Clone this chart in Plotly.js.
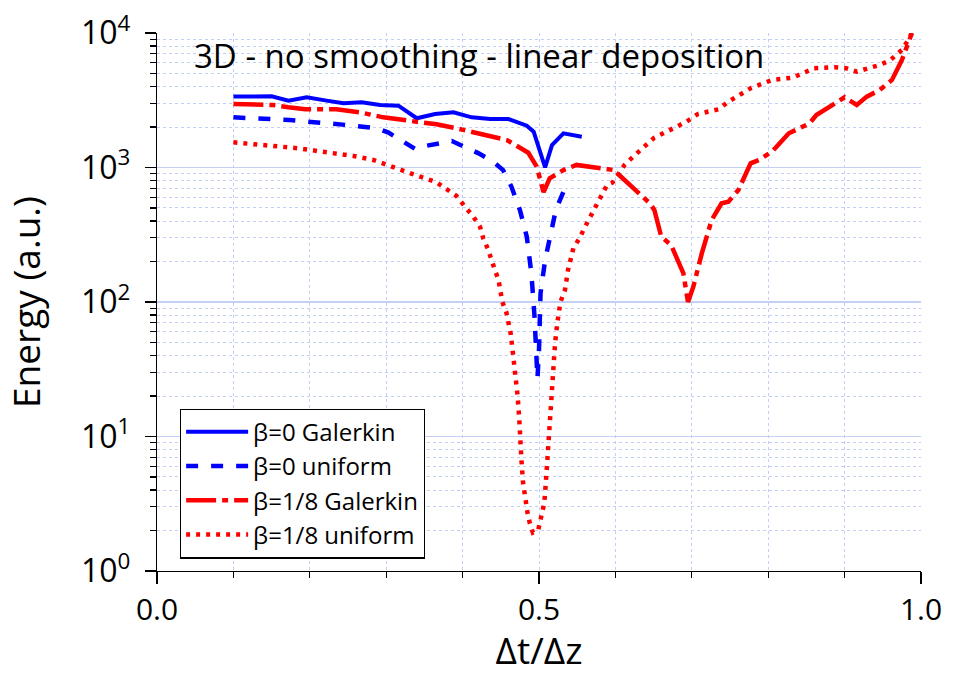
<!DOCTYPE html>
<html>
<head>
<meta charset="utf-8">
<script src="https://cdn.plot.ly/plotly-3.0.1.min.js"></script>
<style>html,body{margin:0;padding:0;background:#fff;}#chart{width:953px;height:675px;}</style>
</head>
<body>
<div id="chart"></div>
<script>
// β=0 Galerkin (solid blue)
const g0_x = [0.100,0.150,0.172,0.196,0.222,0.244,0.268,0.292,0.316,0.340,0.364,0.388,0.412,0.436,0.460,0.484,0.493,0.508,0.517,0.532,0.556];
const g0_y = [3365,3388,3141,3327,3141,3000,3055,2917,2884,2323,2500,2570,2360,2291,2291,2046,1845,1002,1469,1795,1694];

// β=0 uniform (dashed blue)
const u0_x = [0.100,0.174,0.248,0.288,0.303,0.318,0.338,0.353,0.370,0.386,0.405,0.421,0.440,0.453,0.464,0.475,0.484,0.490,0.494,0.497,0.498,0.500,0.502,0.508,0.515,0.522,0.532,0.538];
const u0_y = [2360,2254,2070,1954,1816,1622,1374,1452,1514,1574,1403,1274,1104,957,719,483,306,164,80,43,27,44,116,205,306,483,661,783];

// β=1/8 Galerkin (dash-dot red)
const g8_x = [0.100,0.152,0.172,0.194,0.235,0.266,0.296,0.331,0.366,0.392,0.423,0.458,0.486,0.497,0.506,0.514,0.532,0.549,0.598,0.620,0.645,0.651,0.660,0.673,0.689,0.695,0.702,0.713,0.726,0.739,0.748,0.761,0.777,0.788,0.805,0.827,0.854,0.863,0.880,0.900,0.916,0.929,0.946,0.962,0.975,0.984,0.988];
const g8_y = [2965,2917,2805,2710,2710,2570,2360,2218,2094,1954,1766,1600,1288,1014,655,832,957,1045,957,741,542,483,306,265,163,100,130,229,407,542,557,681,1074,1138,1312,1795,2128,2455,2831,3327,2917,3365,3767,4477,6295,8630,9954];

// β=1/8 uniform (dotted red)
const u8_x = [0.100,0.144,0.185,0.226,0.257,0.283,0.309,0.338,0.366,0.392,0.403,0.414,0.423,0.427,0.433,0.437,0.442,0.447,0.452,0.457,0.460,0.463,0.466,0.469,0.471,0.472,0.474,0.475,0.477,0.479,0.482,0.485,0.488,0.492,0.499,0.502,0.507,0.509,0.511,0.513,0.514,0.517,0.519,0.521,0.524,0.528,0.534,0.538,0.545,0.553,0.560,0.567,0.574,0.582,0.589,0.596,0.612,0.627,0.651,0.680,0.693,0.708,0.735,0.748,0.777,0.805,0.832,0.860,0.887,0.902,0.916,0.931,0.946,0.960,0.975,0.984,0.988];
const u8_y = [1538,1469,1390,1288,1219,1138,1002,879,776,614,512,431,360,298,249,209,175,146,100,85,71,58,41,29,24,20,14,9.7,6.7,4.6,3.3,2.7,2.26,1.93,2.02,2.39,3.22,4.6,6.7,9.7,14,24,35,49,70,100,123,173,251,298,360,431,518,625,741,771,1045,1259,1667,2009,2193,2500,2710,3090,3882,4477,4656,5470,5559,5470,5152,5470,5781,6295,7482,8995,10070];

const seriesNames = ['β=0 Galerkin','β=0 uniform','β=1/8 Galerkin','β=1/8 uniform'];
const yTickVals = [1,10,100,1000,10000];
const yTickText = ['10<sup>0</sup>','10<sup>1</sup>','10<sup>2</sup>','10<sup>3</sup>','10<sup>4</sup>'];
const xTickVals = [0,0.5,1.0];
const xTickText = ['0.0','0.5','1.0'];
const titleText = '3D - no smoothing - linear deposition';

const yMinor = [];
for (let d = 0; d < 4; d++) for (let k = 2; k <= 9; k++) yMinor.push(k * Math.pow(10, d));

const FONT = 'Open Sans, sans-serif';
const BLUE = '#0000ff', RED = '#ff0000';
const GRID = '#c3cff5';

const traces = [
  {x: g0_x, y: g0_y, name: seriesNames[0], mode: 'lines', line: {color: BLUE, width: 4}},
  {x: u0_x, y: u0_y, name: seriesNames[1], mode: 'lines', line: {color: BLUE, width: 4.5, dash: '12px,13px'}},
  {x: g8_x, y: g8_y, name: seriesNames[2], mode: 'lines', line: {color: RED, width: 4.5, dash: '30px,6px,6px,6px'}},
  {x: u8_x, y: u8_y, name: seriesNames[3], mode: 'lines', line: {color: RED, width: 4.5, dash: '4px,6px'}}
];

const layout = {
  width: 953, height: 675,
  margin: {l: 157, r: 32, t: 33, b: 104},
  paper_bgcolor: '#fff', plot_bgcolor: '#fff',
  font: {family: FONT, color: '#000'},
  showlegend: true,
  legend: {
    x: 0.030, y: 0.302, xanchor: 'left', yanchor: 'top',
    bgcolor: '#fff', bordercolor: '#000', borderwidth: 1.2,
    font: {family: FONT, size: 24, color: '#000'},
    itemwidth: 62, tracegroupgap: 0
  },
  xaxis: {
    range: [0, 1], showline: true, linecolor: '#000', linewidth: 1.2,
    tickmode: 'array', tickvals: xTickVals, ticktext: xTickText,
    ticks: 'outside', ticklen: 12, tickcolor: '#000', tickwidth: 1.2,
    tickfont: {family: FONT, size: 30, color: '#000'},
    showgrid: true, gridcolor: GRID, gridwidth: 1, griddash: 'dot',
    zeroline: false,
    minor: {dtick: 0.1, tick0: 0, ticks: 'outside', ticklen: 6, tickcolor: '#000', tickwidth: 1.2,
            showgrid: true, gridcolor: GRID, gridwidth: 1, griddash: 'dot'},
    title: {text: 'Δt/Δz', font: {family: FONT, size: 37, color: '#000'}, standoff: 10}
  },
  yaxis: {
    type: 'log', range: [0, 4], showline: true, linecolor: '#000', linewidth: 1.2,
    tickmode: 'array', tickvals: yTickVals, ticktext: yTickText,
    ticks: 'outside', ticklen: 11, tickcolor: '#000', tickwidth: 1.2, ticklabelstandoff: 8,
    tickfont: {family: FONT, size: 32, color: '#000'},
    showgrid: true, gridcolor: GRID, gridwidth: 1.2,
    zeroline: false,
    minor: {tickmode: 'array', tickvals: yMinor, ticks: 'outside', ticklen: 6, tickcolor: '#000', tickwidth: 1.2,
            showgrid: true, gridcolor: GRID, gridwidth: 1, griddash: 'dot'},
    title: {text: 'Energy (a.u.)', font: {family: FONT, size: 37, color: '#000'}, standoff: 30}
  },
  annotations: [{
    xref: 'paper', yref: 'paper', x: 0.046, y: 0.958, xanchor: 'left', yanchor: 'middle',
    text: titleText, showarrow: false, font: {family: FONT, size: 33, color: '#000'}
  }]
};

Plotly.newPlot('chart', traces, layout, {displayModeBar: false, staticPlot: true});
</script>
</body>
</html>
